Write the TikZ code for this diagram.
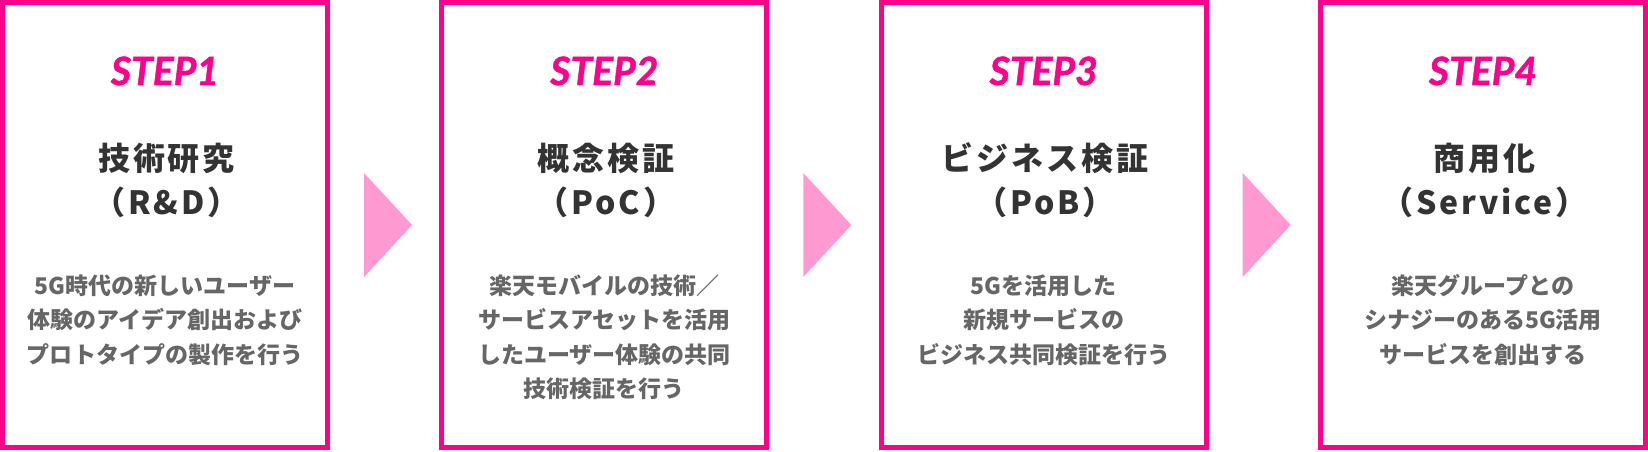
\documentclass[tikz,border=0pt]{standalone}
\usepackage{fontspec}
\usetikzlibrary{calc}
\newfontfamily\jpb{Noto Sans CJK JP}
\newfontfamily\jpt{Noto Sans CJK JP}[LetterSpace=9]
\newfontfamily\stepfont{Lato}[BoldItalicFeatures={FakeBold=1.2}]
\definecolor{pinkc}{HTML}{FF008C}
\definecolor{pinkl}{HTML}{FF99D1}
\definecolor{titlec}{HTML}{333333}
\definecolor{descc}{HTML}{666666}
\tikzset{
  stepbox/.style={draw=pinkc, line width=5pt, minimum width=325pt, minimum height=445pt, inner sep=0pt, outer sep=0pt},
  steplabel/.style={font=\stepfont\bfseries\itshape\fontsize{39}{39}\selectfont, text=pinkc, anchor=base, inner sep=0pt},
  titleline/.style={font=\jpt\bfseries\fontsize{32}{44}\selectfont, text=titlec, anchor=base, inner sep=0pt},
  descline/.style={font=\jpb\bfseries\fontsize{23}{34.5}\selectfont, text=descc, anchor=base, inner sep=0pt},
  arrowfill/.style={fill=pinkl}
}
\begin{document}
\begin{tikzpicture}[x=1pt,y=-1pt]
\useasboundingbox (0,0) rectangle (1648,451);
% boxes
\node[stepbox] (b1) at (165,225) {};
\node[stepbox] (b2) at (604.33,225) {};
\node[stepbox] (b3) at (1043.67,225) {};
\node[stepbox] (b4) at (1483,225) {};
% arrows
\fill[arrowfill] ($(b1.east)+(36.5,-52)$) -- ($(b1.east)+(36.5,52)$) -- ($(b1.east)+(84.5,0)$) -- cycle;
\fill[arrowfill] ($(b2.east)+(36.5,-52)$) -- ($(b2.east)+(36.5,52)$) -- ($(b2.east)+(84.5,0)$) -- cycle;
\fill[arrowfill] ($(b3.east)+(36.5,-52)$) -- ($(b3.east)+(36.5,52)$) -- ($(b3.east)+(84.5,0)$) -- cycle;
% box 1
\node[steplabel] (s1) at (165,85) {STEP1};
\node[titleline] (t1a) at (166.5,170) {技術研究};
\node[titleline] (t1b) at (166.5,214) {（R\&D）};
\node[descline] (d1a) at (165,294) {5G時代の新しいユーザー};
\node[descline] (d1b) at (165,328.5) {体験のアイデア創出および};
\node[descline] (d1c) at (165,363) {プロトタイプの製作を行う};
% box 2
\node[steplabel] (s2) at (604.33,85) {STEP2};
\node[titleline] (t2a) at (605.8,170) {概念検証};
\node[titleline] (t2b) at (605.8,214) {（PoC）};
\node[descline] (d2a) at (604.33,294) {楽天モバイルの技術／};
\node[descline] (d2b) at (604.33,328.5) {サービスアセットを活用};
\node[descline] (d2c) at (604.33,363) {したユーザー体験の共同};
\node[descline] (d2d) at (604.33,397.5) {技術検証を行う};
% box 3
\node[steplabel] (s3) at (1043.67,85) {STEP3};
\node[titleline] (t3a) at (1045.1,170) {ビジネス検証};
\node[titleline] (t3b) at (1045.1,214) {（PoB）};
\node[descline] (d3a) at (1043.67,294) {5Gを活用した};
\node[descline] (d3b) at (1043.67,328.5) {新規サービスの};
\node[descline] (d3c) at (1043.67,363) {ビジネス共同検証を行う};
% box 4
\node[steplabel] (s4) at (1483,85) {STEP4};
\node[titleline] (t4a) at (1484.5,170) {商用化};
\node[titleline] (t4b) at (1484.5,214) {（Service）};
\node[descline] (d4a) at (1483,294) {楽天グループとの};
\node[descline] (d4b) at (1483,328.5) {シナジーのある5G活用};
\node[descline] (d4c) at (1483,363) {サービスを創出する};
\end{tikzpicture}
\end{document}
